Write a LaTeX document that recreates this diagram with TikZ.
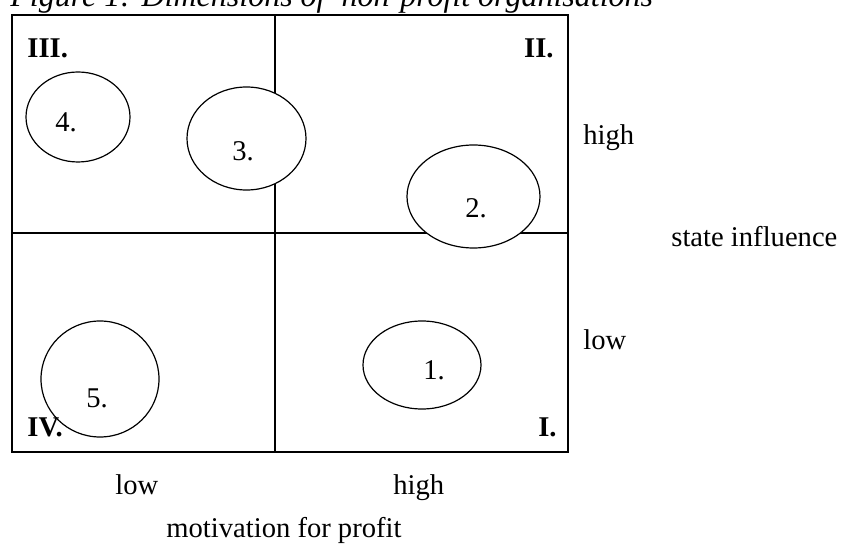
\documentclass[tikz,border=0pt]{standalone}
\usepackage{fontspec}
\setmainfont{Liberation Serif}
\usetikzlibrary{shapes.geometric}
\begin{document}
\begin{tikzpicture}[x=0.5pt,y=-0.5pt,
  frame/.style={line width=0.6pt},
  blob/.style={ellipse,draw,line width=0.6pt,fill=white,inner sep=0pt},
  lbl/.style={inner sep=0pt,font=\fontsize{14.3}{16}\selectfont},
  num/.style={inner sep=0pt,font=\fontsize{14.3}{16}\selectfont\bfseries},
  ttl/.style={inner sep=0pt,font=\fontsize{16}{19}\selectfont\itshape}]
\useasboundingbox (0,0) rectangle (842,545);
% frame
\coordinate (tl) at (12,15);
\coordinate (br) at (568,452);
\coordinate (vt) at (275,15);
\coordinate (vb) at (275,452);
\coordinate (hl) at (12,233);
\coordinate (hr) at (568,233);
\draw[frame] (tl) rectangle (br);
\draw[frame] (vt) -- (vb);
\draw[frame] (hl) -- (hr);
% ellipses (sizes in pt = half the pixel size)
\node[blob,minimum width=52pt,minimum height=45pt] (e4) at (78,117) {};
\node[blob,minimum width=59.5pt,minimum height=51.5pt] (e3) at (246.5,138.5) {};
\node[blob,minimum width=66.5pt,minimum height=51.5pt] (e2) at (473.5,196.5) {};
\node[blob,minimum width=59pt,minimum height=44pt] (e1) at (422,365) {};
\node[blob,minimum width=59pt,minimum height=58pt] (e5) at (100,379) {};
% ellipse labels
\node[lbl,anchor=base west] (t4) at (55,132) {4.};
\node[lbl,anchor=base west] (t3) at (232,161) {3.};
\node[lbl,anchor=base west] (t2) at (465,218) {2.};
\node[lbl,anchor=base west] (t1) at (423,380) {1.};
\node[lbl,anchor=base west] (t5) at (86,408) {5.};
% quadrant numerals
\node[num,anchor=base west] (q3) at (27,58) {III.};
\node[num,anchor=base east] (q2) at (554,58) {II.};
\node[num,anchor=base west] (q4) at (27,437) {IV.};
\node[num,anchor=base east] (q1) at (557,437) {I.};
% axis labels
\node[lbl,anchor=base west] (rh) at (583,145) {high};
\node[lbl,anchor=base west] (si) at (671,247) {state influence};
\node[lbl,anchor=base west] (rl) at (583,350) {low};
\node[lbl,anchor=base west] (bl) at (115,495) {low};
\node[lbl,anchor=base west] (bh) at (393,495) {high};
\node[lbl,anchor=base west] (mp) at (166,538) {motivation for profit};
% title
\node[ttl,anchor=base west] (title) at (10,7) {Figure 1: Dimensions of \ non-profit organisations};
\end{tikzpicture}
\end{document}
